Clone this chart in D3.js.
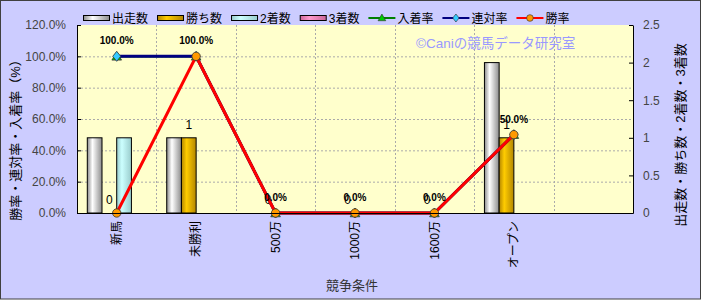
<!DOCTYPE html>
<html>
<head>
<meta charset="utf-8">
<script src="https://cdn.jsdelivr.net/npm/d3@7"></script>
<style>
  body { margin: 0; background: #fff; }
  text { font-family: "Liberation Sans", "Noto Sans CJK JP", sans-serif; }
</style>
</head>
<body>
<div id="chart"></div>
<script>
// data
var categories = ["新馬", "未勝利", "500万", "1000万", "1600万", "オープン", ""];
var starts  = [1, 1, 0, 0, 0, 2, null];   // 出走数
var wins    = [0, 1, 0, 0, 0, 1, null];   // 勝ち数
var seconds = [1, 0, 0, 0, 0, 0, null];   // 2着数
var thirds  = [0, 0, 0, 0, 0, 0, null];   // 3着数
var placeRate = [100, 100, 0, 0, 0, 50, null];  // 入着率
var rentaiRate = [100, 100, 0, 0, 0, 50, null]; // 連対率
var winRate = [0, 100, 0, 0, 0, 50, null];      // 勝率
var leftTicks = [0, 20, 40, 60, 80, 100, 120];
var rightTicks = [0, 0.5, 1, 1.5, 2, 2.5];

var svgWidth = 703;
var svgHeight = 301;

var margin = { top: 25, right: 70, bottom: 88, left: 77 };
var width = 633 - margin.left;
var height = 213 - margin.top;

var svg = d3.select("#chart")
  .append("svg")
  .attr("width", svgWidth)
  .attr("height", svgHeight);

// gradients for the cylinder-ish bars
var defs = svg.append("defs");
function cylinder(id, dark, light) {
  var g = defs.append("linearGradient").attr("id", id)
    .attr("x1", "0%").attr("x2", "100%").attr("y1", "0%").attr("y2", "0%");
  g.append("stop").attr("offset", "0%").attr("stop-color", dark);
  g.append("stop").attr("offset", "35%").attr("stop-color", light);
  g.append("stop").attr("offset", "100%").attr("stop-color", dark);
}
cylinder("gStart", "#8c8c8c", "#ffffff");
cylinder("gWin", "#b38600", "#ffcc00");
cylinder("gSecond", "#99cccc", "#ccffff");
cylinder("gThird", "#cc6699", "#ff99cc");

// outer background
svg.append("rect")
  .attr("x", 0.5).attr("y", 0.5)
  .attr("width", 700).attr("height", 298.5)
  .attr("fill", "#ccccff")
  .attr("stroke", "#404040");

var chartGroup = svg.append("g")
  .attr("transform", `translate(${margin.left}, ${margin.top})`);

chartGroup.append("rect")
  .attr("width", width).attr("height", height)
  .attr("fill", "#ffffcc");

// scales
var xScale = d3.scaleBand().domain(categories).range([0, width]).padding(0);
var barSeries = [
  { name: "出走数", values: starts, fill: "url(#gStart)" },
  { name: "勝ち数", values: wins, fill: "url(#gWin)" },
  { name: "2着数", values: seconds, fill: "url(#gSecond)" },
  { name: "3着数", values: thirds, fill: "url(#gThird)" }
];
var xSub = d3.scaleBand().domain(barSeries.map(d => d.name))
  .range([0, xScale.bandwidth()]).paddingInner(0).paddingOuter(0.7);

var yLeft = d3.scaleLinear().domain([0, 120]).range([height, 0]);
var yRight = d3.scaleLinear().domain([0, 2.5]).range([height, 0]);

// grid lines
chartGroup.append("g").selectAll("line")
  .data(leftTicks.filter(d => d > 0 && d < 120))
  .enter().append("line")
  .attr("x1", 0).attr("x2", width)
  .attr("y1", d => yLeft(d) + 0.5).attr("y2", d => yLeft(d) + 0.5)
  .attr("stroke", "#aaaaaa").attr("stroke-dasharray", "2,2");

chartGroup.append("g").selectAll("line")
  .data(categories.slice(1))
  .enter().append("line")
  .attr("x1", d => Math.round(xScale(d)) + 0.5).attr("x2", d => Math.round(xScale(d)) + 0.5)
  .attr("y1", 0).attr("y2", height)
  .attr("stroke", "#aaaaaa").attr("stroke-dasharray", "2,2");

// watermark
chartGroup.append("text")
  .attr("x", 416 - margin.left).attr("y", 48 - margin.top)
  .attr("fill", "#9999ff")
  .style("font-size", "13.5px")
  .text("©Caniの競馬データ研究室");

// bars
barSeries.forEach(function(s) {
  chartGroup.append("g").selectAll("rect")
    .data(categories.map((c, i) => ({ cat: c, v: s.values[i] })).filter(d => d.v > 0))
    .enter().append("rect")
    .attr("x", d => xScale(d.cat) + xSub(s.name))
    .attr("y", d => yRight(d.v))
    .attr("width", xSub.bandwidth())
    .attr("height", d => height - yRight(d.v))
    .attr("fill", s.fill)
    .attr("stroke", "#000")
    .attr("stroke-width", 1);
});

// 勝ち数 labels
chartGroup.append("g").selectAll("text")
  .data(categories.map((c, i) => ({ cat: c, v: wins[i] })).filter(d => d.v !== null))
  .enter().append("text")
  .attr("x", d => xScale(d.cat) + xSub("勝ち数") + xSub.bandwidth() / 2)
  .attr("y", d => yRight(d.v) - 9)
  .attr("text-anchor", "middle")
  .style("font-size", "12px")
  .attr("fill", "#000")
  .text(d => d.v);

// lines
var lineSeries = [
  { name: "入着率", values: placeRate, color: "#008000", marker: "tri", mfill: "#00cc00", w: 2.5 },
  { name: "連対率", values: rentaiRate, color: "#000080", marker: "dia", mfill: "#33ccff", w: 3 },
  { name: "勝率", values: winRate, color: "#ff0000", marker: "circle", mfill: "#ff9900", w: 3 }
];

function markerPath(type) {
  if (type === "tri") return d3.symbol().type(d3.symbolTriangle).size(40)();
  if (type === "dia") return "M0,-5L4,0L0,5L-4,0Z";
  return d3.symbol().type(d3.symbolCircle).size(55)();
}

var line = d3.line()
  .defined(d => d.v !== null)
  .x(d => xScale(d.cat) + xScale.bandwidth() / 2)
  .y(d => yLeft(d.v));

lineSeries.forEach(function(s) {
  var pts = categories.map((c, i) => ({ cat: c, v: s.values[i] }));
  chartGroup.append("path")
    .datum(pts)
    .attr("d", line)
    .attr("fill", "none")
    .attr("stroke", s.color)
    .attr("stroke-width", s.w);
  chartGroup.append("g").selectAll("path")
    .data(pts.filter(d => d.v !== null))
    .enter().append("path")
    .attr("d", markerPath(s.marker))
    .attr("transform", d => `translate(${xScale(d.cat) + xScale.bandwidth() / 2}, ${yLeft(d.v) + (s.marker === "tri" ? 1 : 0)})`)
    .attr("fill", s.mfill)
    .attr("stroke", "#333")
    .attr("stroke-width", 0.8);
});

// 連対率 labels
chartGroup.append("g").selectAll("text")
  .data(categories.map((c, i) => ({ cat: c, v: rentaiRate[i] })).filter(d => d.v !== null))
  .enter().append("text")
  .attr("x", d => xScale(d.cat) + xScale.bandwidth() / 2)
  .attr("y", d => yLeft(d.v) - 12)
  .attr("text-anchor", "middle")
  .style("font-size", "10px")
  .style("font-weight", "bold")
  .attr("fill", "#000")
  .text(d => d.v.toFixed(1) + "%");

// axes
var leftAxis = d3.axisLeft(yLeft).tickValues(leftTicks)
  .tickFormat(d => d.toFixed(1) + "%").tickSizeInner(-4).tickSizeOuter(0).tickPadding(11);
var rightAxis = d3.axisRight(yRight).tickValues(rightTicks)
  .tickFormat(d => d).tickSizeInner(-4).tickSizeOuter(0).tickPadding(10);
var bottomAxis = d3.axisBottom(xScale).tickSize(0).tickPadding(0);

var gl = chartGroup.append("g").call(leftAxis);
var gr = chartGroup.append("g").attr("transform", `translate(${width}, 0)`).call(rightAxis);
var gb = chartGroup.append("g").attr("transform", `translate(0, ${height})`).call(bottomAxis);

[gl, gr].forEach(function(g) {
  g.select(".domain").attr("stroke", "#000");
  g.selectAll(".tick line").attr("stroke", "#000");
  g.selectAll(".tick text")
    .style("font-size", "12px")
    .style("font-family", "'Liberation Sans', sans-serif")
    .attr("fill", "#444");
});
gb.select(".domain").attr("stroke", "#000");
gb.selectAll(".tick text")
  .attr("transform", "rotate(-90)")
  .attr("x", -8)
  .attr("y", 0)
  .attr("dy", "0.35em")
  .attr("text-anchor", "end")
  .style("font-size", "12px")
  .attr("fill", "#000");

// axis titles
svg.append("text")
  .attr("transform", "translate(20, 137) rotate(-90)")
  .attr("text-anchor", "middle")
  .style("font-size", "13px")
  .attr("fill", "#000")
  .text("勝率・連対率・入着率（%）");

svg.append("text")
  .attr("transform", "translate(685, 135) rotate(-90)")
  .attr("text-anchor", "middle")
  .style("font-size", "13px")
  .attr("fill", "#000")
  .text("出走数・勝ち数・2着数・3着数");

svg.append("text")
  .attr("x", 352).attr("y", 290)
  .attr("text-anchor", "middle")
  .style("font-size", "13px")
  .attr("fill", "#333")
  .text("競争条件");

// legend
var legend = svg.append("g").attr("transform", "translate(83, 18)");
var legendItems = barSeries.map(d => ({ name: d.name, type: "bar", fill: d.fill }))
  .concat(lineSeries.map(d => ({ name: d.name, type: "line", color: d.color, marker: d.marker, mfill: d.mfill })));
var lx = 0;
legendItems.forEach(function(it) {
  var g = legend.append("g").attr("transform", `translate(${lx}, 0)`);
  if (it.type === "bar") {
    g.append("rect").attr("x", 0.5).attr("y", -2.5).attr("width", 26).attr("height", 5)
      .attr("fill", it.fill).attr("stroke", "#000");
  } else {
    g.append("line").attr("x1", 0).attr("x2", 27).attr("y1", 0).attr("y2", 0)
      .attr("stroke", it.color).attr("stroke-width", 2);
    g.append("path").attr("d", markerPath(it.marker))
      .attr("transform", `translate(13.5, ${it.marker === "tri" ? 0.5 : 0}) scale(0.8)`)
      .attr("fill", it.mfill).attr("stroke", "#333").attr("stroke-width", 0.8);
  }
  var t = g.append("text").attr("x", 29).attr("y", 0).attr("dy", "0.38em")
    .style("font-size", "12px").attr("fill", "#000").text(it.name);
  lx += 29 + t.node().getComputedTextLength() + 9;
});
</script>
</body>
</html>
